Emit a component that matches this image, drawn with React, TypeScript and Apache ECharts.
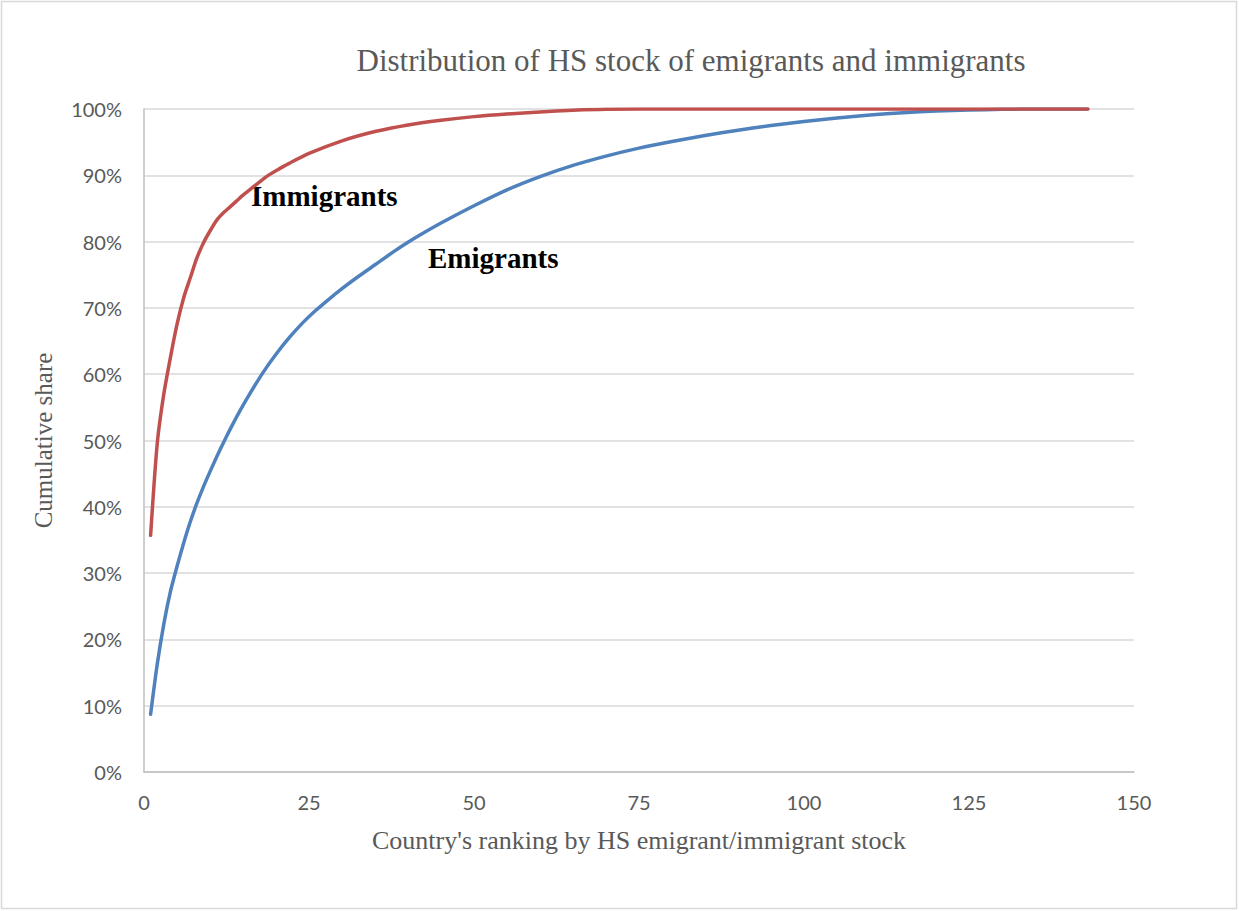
import React, { useEffect, useRef } from "react";
import * as echarts from "echarts";

const titleText = "Distribution of HS stock of emigrants and immigrants";
const xAxisName = "Country's ranking by HS emigrant/immigrant stock";
const yAxisName = "Cumulative share";

// Immigrants: rank -> cumulative share (%)
const immigrantRanks = [1, 2, 3, 4, 5, 6, 7, 8, 9, 10, 11, 12, 13, 14, 15, 16, 17, 18, 19, 20, 22, 25, 30, 35, 40, 45, 50, 55, 60, 65, 70, 80, 100, 120, 143];
const immigrantShares = [35.7, 49.5, 57, 62.5, 67.5, 71.5, 74.5, 77.5, 79.8, 81.6, 83.2, 84.3, 85.2, 86.1, 87, 87.8, 88.6, 89.4, 90.1, 90.7, 91.8, 93.3, 95.2, 96.6, 97.6, 98.3, 98.85, 99.25, 99.55, 99.8, 99.95, 100, 100, 100, 100];

// Emigrants: rank -> cumulative share (%)
const emigrantRanks = [1, 2, 3, 4, 5, 6, 7, 8, 9, 10, 11, 12, 13, 14, 15, 16, 18, 20, 22, 24, 26, 28, 30, 32, 35, 38, 40, 42, 45, 50, 55, 60, 65, 70, 75, 80, 85, 90, 95, 100, 105, 110, 115, 120, 125, 130, 135, 143];
const emigrantShares = [8.7, 16.2, 22.3, 27.2, 31, 34.5, 37.7, 40.5, 43, 45.3, 47.5, 49.6, 51.6, 53.5, 55.3, 57, 60.2, 63, 65.5, 67.7, 69.6, 71.3, 72.9, 74.4, 76.5, 78.6, 79.9, 81.1, 82.8, 85.4, 87.8, 89.8, 91.5, 92.9, 94.1, 95.1, 96, 96.8, 97.5, 98.1, 98.65, 99.1, 99.45, 99.7, 99.85, 99.95, 100, 100];

const serif = "'Liberation Serif', 'DejaVu Serif', serif";
const sans = "Lato, 'Open Sans', sans-serif";

export default function App() {
  const ref = useRef<HTMLDivElement>(null);
  useEffect(() => {
    document.body.style.margin = "0";
    if (!ref.current) return;
    const chart = echarts.init(ref.current, undefined, { renderer: "svg" });
    const pair = (xs: number[], ys: number[]) => xs.map((x, i) => [x, ys[i]]);
    chart.setOption({
      animation: false,
      backgroundColor: "#ffffff",
      title: {
        text: titleText,
        left: 686,
        top: 40,
        textAlign: "center",
        textStyle: { fontFamily: serif, fontSize: 31, fontWeight: "normal", color: "#595959" },
      },
      grid: { left: 144, right: 105, top: 109, bottom: 139, containLabel: false },
      xAxis: {
        type: "value",
        min: 0,
        max: 150,
        interval: 25,
        name: xAxisName,
        nameLocation: "middle",
        nameGap: 55,
        nameTextStyle: { fontFamily: serif, fontSize: 26, color: "#595959" },
        axisLine: { show: true, lineStyle: { color: "#bfbfbf", width: 1.5 } },
        axisTick: { show: false },
        splitLine: { show: false },
        axisLabel: { fontFamily: sans, fontSize: 20, color: "#595959", margin: 20 },
      },
      yAxis: {
        type: "value",
        min: 0,
        max: 100,
        interval: 10,
        name: yAxisName,
        nameLocation: "middle",
        nameGap: 88,
        nameTextStyle: { fontFamily: serif, fontSize: 25, color: "#595959" },
        axisLine: { show: true, lineStyle: { color: "#bfbfbf", width: 1.5 } },
        axisTick: { show: false },
        splitLine: { show: true, lineStyle: { color: "#d9d9d9", width: 1.5 } },
        axisLabel: { fontFamily: sans, fontSize: 20, color: "#595959", margin: 22, formatter: "{value}%" },
      },
      graphic: [
        {
          type: "rect",
          shape: { x: 1.5, y: 1.5, width: 1235, height: 907 },
          style: { fill: "none", stroke: "#d9d9d9", lineWidth: 1.5 },
          silent: true,
        },
        {
          type: "text",
          left: 251,
          top: 181,
          style: { text: "Immigrants", fontFamily: serif, fontSize: 29, fontWeight: "bold", fill: "#000000" },
        },
        {
          type: "text",
          left: 428,
          top: 243,
          style: { text: "Emigrants", fontFamily: serif, fontSize: 29, fontWeight: "bold", fill: "#000000" },
        },
      ],
      series: [
        {
          name: "Emigrants",
          type: "line",
          data: pair(emigrantRanks, emigrantShares),
          smooth: 0.25,
          showSymbol: false,
          symbol: "none",
          lineStyle: { color: "#4f81bd", width: 3.5, cap: "round", join: "round" },
          z: 2,
        },
        {
          name: "Immigrants",
          type: "line",
          data: pair(immigrantRanks, immigrantShares),
          smooth: 0.25,
          showSymbol: false,
          symbol: "none",
          lineStyle: { color: "#c0504d", width: 3.5, cap: "round", join: "round" },
          z: 3,
        },
      ],
    });
    return () => chart.dispose();
  }, []);
  return <div ref={ref} style={{ width: 1239, height: 911 }} />;
}
